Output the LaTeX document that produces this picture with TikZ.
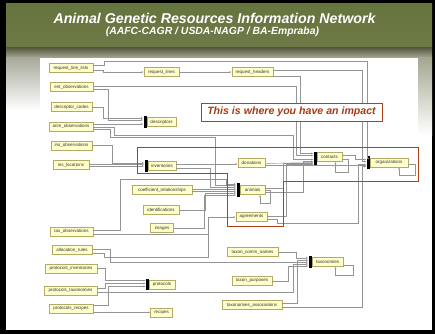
\documentclass[tikz,border=0pt]{standalone}
\usepackage{fontspec}
\setmainfont{Liberation Sans}
\usetikzlibrary{arrows.meta}
\definecolor{boxfill}{HTML}{FFFFCC}
\definecolor{boxdraw}{HTML}{B4AA64}
\definecolor{connc}{HTML}{959595}
\definecolor{redline}{HTML}{B0421A}
\definecolor{redtext}{HTML}{A63C14}
\definecolor{hdrtop}{HTML}{66743E}
\definecolor{hdrmid}{HTML}{8C9862}
\definecolor{hdrbot}{HTML}{6E7A48}
\definecolor{stripa}{HTML}{585C40}
\definecolor{stripb}{HTML}{ABA899}
\definecolor{sidel}{HTML}{A8AA9C}
\definecolor{sider}{HTML}{A4A890}
\begin{document}
\begin{tikzpicture}[x=1pt,y=-1pt,
  tbl/.style={draw=boxdraw, fill=boxfill, line width=0.5pt, inner sep=0pt, minimum height=9pt,
    font=\fontsize{4.5}{5}\selectfont, text=black!80},
  conn/.style={draw=connc, line width=0.45pt},
  arr/.style={conn, -{Latex[length=2.2pt,width=1.8pt]}},
  barnode/.style={fill=black, inner sep=0pt, minimum width=3pt, anchor=east},
  redframe/.style={draw=redline, line width=1pt}]
% background
\useasboundingbox (0,0) rectangle (435,334);
\fill[black] (0,0) rectangle (435,334);
\fill[white] (6,4) rectangle (432,330);
\shade[top color=hdrtop, middle color=hdrmid, bottom color=hdrbot] (6,4) rectangle (432,48);
\shade[top color=stripa, bottom color=stripb] (6,48) rectangle (432,58);
\shade[top color=sidel, bottom color=white] (6,58) rectangle (40,110);
\shade[top color=sider, bottom color=white] (418,58) rectangle (432,135);
\fill[white] (40,58) rectangle (418,324);
% title
\node[text=white, font=\fontsize{14.2}{15}\selectfont\bfseries\itshape] (title) at (214.5,18.5) {Animal Genetic Resources Information Network};
\node[text=white, font=\fontsize{10.4}{11}\selectfont\bfseries\itshape] (subtitle) at (212.5,32) {(AAFC-CAGR / USDA-NAGP / BA-Empraba)};
% tables, left column
\node[tbl, minimum width=44pt] (rll) at (71,68) {request\_line\_lists};
\node[tbl, minimum width=43pt] (eo) at (71.5,87) {ent\_observations};
\node[tbl, minimum width=41pt] (dc) at (71.5,107) {descriptor\_codes};
\node[tbl, minimum width=44pt] (ao) at (71,126.5) {anm\_observations};
\node[tbl, minimum width=41pt] (io) at (71.5,145.5) {ins\_observations};
\node[tbl, minimum width=36pt] (il) at (71,165) {ins\_locations};
\node[tbl, minimum width=43pt] (to) at (71.5,231.5) {tax\_observations};
\node[tbl, minimum width=40pt] (ar) at (72,250) {allocation\_rules};
\node[tbl, minimum width=52pt] (pi) at (71,268.5) {protocols\_inventories};
\node[tbl, minimum width=53pt] (pt) at (70.5,290.5) {protocols\_taxonomies};
\node[tbl, minimum width=44pt] (pr) at (71,308.5) {protocols\_recipes};
% middle column
\node[tbl, minimum width=35pt] (rl) at (161.5,72) {request\_lines};
\node[tbl, minimum width=41pt] (rh) at (252.5,72) {request\_headers};
\node[tbl, minimum width=29pt] (de) at (161.5,122) {descriptors};
\node[tbl, minimum width=28pt] (inv) at (162,166) {inventories};
\node[tbl, minimum width=60pt] (cr) at (162,190) {coefficient\_relationships};
\node[tbl, minimum width=36pt] (id) at (161,210) {identifications};
\node[tbl, minimum width=23pt] (im) at (162,228) {images};
\node[tbl, minimum width=26pt] (pro) at (162,284.5) {protocols};
\node[tbl, minimum width=22pt] (rec) at (161.5,312.5) {recipes};
% third column
\node[tbl, minimum width=27pt] (don) at (251.5,163) {donations};
\node[tbl, minimum width=25pt] (ani) at (252.5,190) {animals};
\node[tbl, minimum width=31pt] (agr) at (251.5,217) {agreements};
\node[tbl, minimum width=51pt] (tcn) at (252.5,252) {taxon\_comm\_names};
\node[tbl, minimum width=40pt] (tp) at (252,281) {taxon\_purposes};
\node[tbl, minimum width=60pt] (ta) at (252,305) {taxonomies\_associations};
% right
\node[tbl, minimum width=25pt] (con) at (329.5,157) {contacts};
\node[tbl, minimum width=38pt] (org) at (389,162.5) {organizations};
\node[tbl, minimum width=31pt] (tax) at (327.5,262) {taxonomies};
% bars
\node[barnode, minimum height=12pt] (debar) at (de.west) {};
\node[barnode, minimum height=12pt] (invbar) at (inv.west) {};
\node[barnode, minimum height=14pt] (anibar) at (ani.west) {};
\node[barnode, minimum height=13pt] (conbar) at ([yshift=-1.5pt]con.west) {};
\node[barnode, minimum height=13pt] (orgbar) at (org.west) {};
\node[barnode, minimum height=12pt] (taxbar) at (tax.west) {};
\node[barnode, minimum height=11pt, minimum width=2.5pt] (probar) at (pro.west) {};
% routing corners
\coordinate (k1) at (367,61);
\coordinate (k2) at (362,70);
\coordinate (k3) at (293,135);
\coordinate (k4) at (215,137);
\coordinate (k5) at (226,179);
\coordinate (k6) at (208,257);
\coordinate (k7) at (358,223);
% connectors
\draw[arr] ([yshift=3pt]rll.east) -- ++(11,0) |- (k1) |- ([yshift=4pt]orgbar.west);
\draw[arr] ([yshift=-2pt]rll.east) -- ++(10,0) |- (rl.west);
\draw[arr] (rl.east) -- (rh.west);
\draw[arr] ([yshift=2pt]rh.east) -- (k2) |- ([yshift=1pt]orgbar.west);
\draw[arr] ([yshift=-4pt]rh.east) -- ++(27,0) |- ([yshift=5pt]conbar.west);
\draw[arr] ([yshift=1pt]eo.east) -- ++(203,0) |- ([yshift=3pt]conbar.west);
\draw[arr] ([yshift=-2pt]eo.east) -- ++(15,0) |- ([yshift=2pt]debar.west);
\draw[arr] (dc.east) -- ++(11,0) |- ([yshift=4pt]debar.west);
\draw[arr] ([yshift=2.5pt]ao.east) -- ([yshift=-2pt]debar.west);
\draw[arr] ([yshift=-1pt]ao.east) -- ++(21,0) |- (k3) |- ([yshift=-1pt]conbar.west);
\draw[arr] ([yshift=-3pt]ao.east) -- ++(17,0) |- (k4) |- ([yshift=5pt]anibar.west);
\draw[arr] (io.east) -- ++(20,0) |- ([yshift=3pt]invbar.west);
\draw[arr] ([yshift=1pt]il.east) -- ([yshift=2pt]invbar.west);
\draw[arr] ([yshift=-1pt]il.east) -- (invbar.west);
\draw[arr] ([yshift=2pt]inv.east) -- ([yshift=-1pt]don.west);
\draw[arr] ([yshift=-2pt]inv.east) -- ++(34,0) |- ([yshift=3pt]anibar.west);
\draw[arr] ([yshift=1pt]cr.east) -- ([yshift=1pt]anibar.west);
\draw[arr] ([yshift=-1pt]cr.east) -- ([yshift=-1pt]anibar.west);
\draw[arr] (id.east) -- ++(26,0) |- ([yshift=-3pt]anibar.west);
\draw[arr] (im.east) -- ++(30,0) |- ([yshift=-5pt]anibar.west);
\draw[arr] ([yshift=1.5pt]to.east) -- ++(27,0) |- (k5) |- ([yshift=6pt]anibar.west);
\draw[arr] ([yshift=-3pt]to.east) -- ++(115,0) |- (agr.west);
\draw[conn] ([yshift=-3pt]ar.east) -- ++(12,0) |- (k6) -- ++(0,-30);
\draw[arr] ([yshift=1pt]ar.east) -- ++(18,0) |- (taxbar.west);
\draw[arr] (tcn.east) -- ++(18,0) |- ([yshift=4pt]taxbar.west);
\draw[arr] (tp.east) -- ++(16,0) |- ([yshift=-4pt]taxbar.west);
\draw[arr] ([yshift=-1.5pt]pt.east) -- ++(196,0) |- ([yshift=-2pt]taxbar.west);
\draw[arr] ([yshift=2pt]ta.east) -- ++(15,0) |- ([yshift=2pt]taxbar.west);
\draw[arr] ([yshift=-2pt]ta.east) -- ++(80,0) |- ([yshift=-4pt]orgbar.west);
\draw[arr] ([yshift=-3pt]tax.east) -- ++(10,0) -- ++(0,10) -| ([xshift=8pt]tax.south);
\draw[arr] (pi.east) -- ++(8,0) |- ([yshift=4pt]probar.west);
\draw[arr] ([yshift=2pt]pt.east) -- ++(8,0) |- ([yshift=1pt]probar.west);
\draw[arr] ([yshift=3pt]pr.east) -- ++(15,0) |- ([yshift=-2pt]probar.west);
\draw[arr] ([yshift=-4pt]pr.east) -- (rec.west);
\draw[arr] ([yshift=-0.5pt]don.east) -- ([yshift=-4pt]conbar.west);
\draw[arr] ([yshift=-2.5pt]don.east) -- ++(93,0) |- ([yshift=-2pt]orgbar.west);
\draw[arr] ([yshift=2pt]ani.east) -- ++(18,0) |- ([yshift=-5pt]conbar.west);
\draw[arr] ([yshift=-2pt]ani.east) -- ++(38,0) |- ([yshift=-3pt]conbar.west);
\draw[arr] ([yshift=1pt]agr.east) -- ++(19,0) |- ([yshift=-6pt]conbar.west);
\draw[arr] ([yshift=-2pt]agr.east) -- ++(10,0) |- (k7) |- ([yshift=-3pt]orgbar.west);
\draw[arr] ([yshift=2pt]con.east) -- ++(13,0) |- ([yshift=3pt]orgbar.west);
\draw[arr] ([yshift=-2pt]con.east) -- ++(6,0) -- ++(0,13) -| ([xshift=6pt]con.south);
\draw[arr] ([yshift=-2pt]org.east) -- ++(7,0) -- ++(0,11) -| ([xshift=10pt]org.south);
\draw[arr] (ani.east) -- ++(5,0) -- ++(0,13) -| ([xshift=7.5pt]ani.south);
% highlight
\draw[redframe] (137,147) -- (418,147) -- (418,181) -- (283,181) -- (283,226) -- (227,226) -- (227,173) -- (137,173) -- cycle;
\node[draw=redline, fill=white, line width=0.8pt, minimum width=181pt, minimum height=18pt, inner sep=0pt,
  font=\fontsize{10.6}{11}\selectfont\bfseries\itshape, text=redtext] (callout) at (291.5,112) {This is where you have an impact};
\end{tikzpicture}
\end{document}
